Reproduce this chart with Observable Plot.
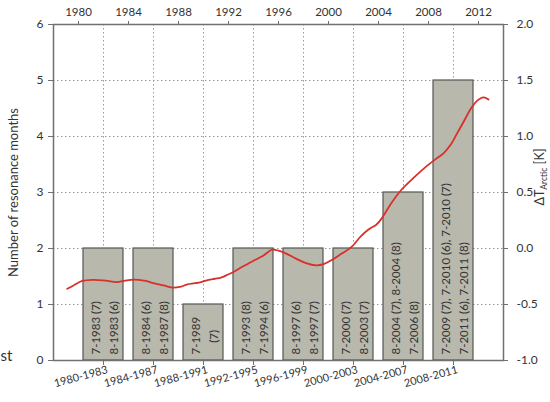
<!DOCTYPE html>
<html><head><meta charset="utf-8">
<script src="https://cdn.jsdelivr.net/npm/d3@7"></script>
<script src="https://cdn.jsdelivr.net/npm/@observablehq/plot@0.6"></script>
<style>
body{margin:0;background:#fff;}
#chart{width:550px;height:402px;}
</style>
</head><body><div id="chart"></div>
<script>
// ---- data ----
const periods = ["1980-1983","1984-1987","1988-1991","1992-1995","1996-1999","2000-2003","2004-2007","2008-2011"];
const periodStart = [1980,1984,1988,1992,1996,2000,2004,2008];
const resonanceMonths = [2,2,1,2,2,2,3,5];
const labelLine1 = ["7-1983 (7)","8-1984 (6)","7-1989","7-1993 (8)","8-1997 (6)","7-2000 (7)","8-2004 (7), 8-2004 (8)","7-2009 (7), 7-2010 (6), 7-2010 (7)"];
const labelLine2 = ["8-1983 (6)","8-1987 (8)","\u00a0\u00a0\u00a0\u00a0(7)","7-1994 (6)","8-1997 (7)","8-2003 (7)","7-2006 (8)","7-2011 (6), 7-2011 (8)"];
const topTicks = [1980,1984,1988,1992,1996,2000,2004,2008,2012];
const leftTicks = [0,1,2,3,4,5,6];
const rightTickLabels = ["-1.0","-0.5","0.0","0.5","1.0","1.5","2.0"];
const tempYears = [1979.1,1979.6,1980.3,1981.2,1982.0,1983.1,1983.6,1984.2,1984.8,1985.4,1986.0,1986.8,1987.6,1988.2,1988.7,1989.3,1989.8,1990.4,1990.9,1991.4,1992.0,1992.4,1993.0,1993.5,1994.0,1994.7,1995.5,1996.0,1996.7,1997.4,1998.2,1999.0,1999.6,2000.3,2001.0,2001.8,2002.6,2003.2,2003.8,2004.2,2005.0,2005.8,2006.8,2007.9,2008.6,2009.2,2009.8,2010.3,2010.8,2011.4,2011.9,2012.4,2012.8];
const tempAnomaly = [-0.36,-0.33,-0.29,-0.28,-0.285,-0.30,-0.29,-0.28,-0.28,-0.29,-0.31,-0.33,-0.35,-0.34,-0.32,-0.31,-0.30,-0.28,-0.27,-0.26,-0.23,-0.21,-0.17,-0.14,-0.11,-0.07,-0.01,-0.02,-0.05,-0.09,-0.13,-0.15,-0.14,-0.10,-0.05,0.01,0.11,0.17,0.21,0.26,0.40,0.52,0.63,0.74,0.80,0.85,0.93,1.03,1.13,1.25,1.32,1.35,1.33];

// ---- derived tables ----
const bars = periods.map((p,i)=>({period:p, start:periodStart[i], value:resonanceMonths[i], l1:labelLine1[i], l2:labelLine2[i]}));
const temp = tempYears.map((y,i)=>({year:y, t:tempAnomaly[i]}));
const tToY = t => (t + 1) * 2; // right axis (-1..2 K) onto left axis (0..6)
const periodMid = periodStart.map(d => d + 2);

const plot = Plot.plot({
  width: 550, height: 402,
  marginLeft: 53, marginRight: 47, marginTop: 24, marginBottom: 42,
  x: {domain: [1978, 2014]},
  y: {domain: [0, 6]},
  style: {fontFamily: "Lato, 'Open Sans', sans-serif", color: "#333", background: "white", overflow: "visible"},
  marks: [
    Plot.gridY([1,2,3,4,5], {stroke: "#999", strokeOpacity: 1, strokeDasharray: "1.5,2.5"}),
    Plot.gridX(periodMid, {stroke: "#999", strokeOpacity: 1, strokeDasharray: "1.5,2.5"}),
    Plot.rect(bars, {x1: d => d.start + 0.4, x2: d => d.start + 3.6, y1: 0, y2: "value", fill: "#b9b8ad", stroke: "#555", strokeWidth: 1.2}),
    Plot.text(bars, {x: d => d.start + 2, y: 0, text: d => d.l1 + "\n" + d.l2, rotate: -90, textAnchor: "start", lineAnchor: "middle", lineHeight: 1.5, fontSize: 11.5, dy: -6, fill: "#333"}),
    Plot.line(temp, {x: "year", y: d => tToY(d.t), stroke: "#d8302a", strokeWidth: 1.8, curve: "catmull-rom"}),
    Plot.frame({stroke: "#707070", strokeWidth: 1.5}),
    Plot.axisY(leftTicks, {anchor: "left", tickSize: 5, tickPadding: 5, fontSize: 12, label: null, tickFormat: d => String(d), stroke: "#707070"}),
    Plot.axisY(leftTicks, {anchor: "right", tickSize: 4, tickPadding: 9, fontSize: 12, label: null, tickFormat: d => rightTickLabels[leftTicks.indexOf(d)], stroke: "#707070"}),
    Plot.axisX(topTicks, {anchor: "top", tickSize: 4, tickPadding: 5, fontSize: 11.5, label: null, tickFormat: d => String(d), stroke: "#707070"}),
    Plot.axisX(periodMid, {anchor: "bottom", tickSize: 5, label: null, tickFormat: () => "", stroke: "#707070"}),
    Plot.axisX(periodMid, {anchor: "bottom", tickSize: 0, tickPadding: 8, fontSize: 11, tickRotate: -15, dx: 4, dy: 1, label: null, tickFormat: d => periods[periodMid.indexOf(d)]}),
    Plot.text(["Number of resonance months"], {frameAnchor: "left", dx: -40, rotate: -90, textAnchor: "middle", fontSize: 13, fill: "#333"}),
    Plot.text(["st"], {frameAnchor: "bottom-left", dx: -53, textAnchor: "start", fontSize: 15, fill: "#333"})
  ]
});

// right axis title with subscript
const svg = d3.select(plot);
const rt = svg.append("text")
  .attr("transform", "translate(544,177) rotate(-90)")
  .attr("text-anchor", "middle")
  .attr("font-family", "Lato, 'Open Sans', sans-serif")
  .attr("font-size", 12.5)
  .attr("fill", "#333");
rt.append("tspan").text("\u0394T");
rt.append("tspan").attr("font-size", 8.5).attr("dy", 3).text("Arctic");
rt.append("tspan").attr("dy", -3).text(" [K]");

document.getElementById("chart").appendChild(plot);
</script>
</body></html>
